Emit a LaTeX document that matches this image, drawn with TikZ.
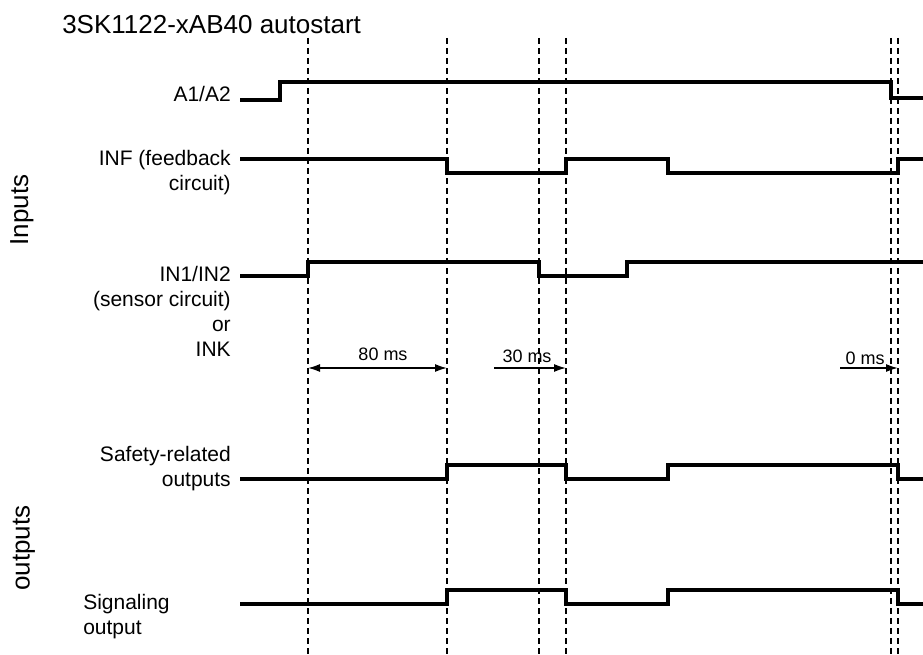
\documentclass[tikz,border=0pt]{standalone}
\usepackage{fontspec}
\setmainfont{Liberation Sans}
\usetikzlibrary{arrows.meta}

\begin{document}
\begin{tikzpicture}[
        x=0.75pt, y=-0.75pt,
        every node/.style={inner sep=0pt, font=\fontsize{15.75}{18.75}\selectfont},
        siglabel/.style={anchor=base east, align=right},
        group/.style={rotate=90, font=\fontsize{19.5}{23}\selectfont},
        mslabel/.style={anchor=base, font=\fontsize{13.5}{16}\selectfont},
        wave/.style={line width=2.6pt, line join=miter},
        timeline/.style={line width=0.8pt, dash pattern=on 4.5pt off 3pt},
        timing/.style={line width=1.2pt},
        >={Latex[length=9pt, width=6pt]}
      ]
        \useasboundingbox (0,0) rectangle (923,655);

        % Title and groups
        \node[anchor=base west, font=\fontsize{19.5}{23}\selectfont] (title) at (62,34) {3SK1122-xAB40 autostart};
        \node[group] (inputs) at (22,210) {Inputs};
        \node[group] (outputs) at (24,548) {outputs};

        % Signal names (base = last line)
        \node[siglabel] (a1a2) at (231,102) {A1/A2};
        \node[siglabel] (inf) at (231,191) {INF (feedback\\circuit)};
        \node[siglabel] (in12) at (231,357) {IN1/IN2\\(sensor circuit)\\or\\INK};
        \node[siglabel] (safety) at (231,486) {Safety-related\\outputs};
        \node[anchor=base west, align=left] (signaling) at (83,634) {Signaling\\output};

        % Time markers
        \draw[timeline] (308,38) -- (308,655);
        \draw[timeline] (447,38) -- (447,655);
        \draw[timeline] (539,38) -- (539,655);
        \draw[timeline] (566,38) -- (566,655);
        \draw[timeline] (891,38) -- (891,655);
        \draw[timeline] (898,38) -- (898,655);

        % Waveforms
        \draw[wave] (240,100) -- (280,100) -- (280,82) -- (891,82) -- (891,98) -- (923,98);
        \draw[wave] (240,159) -- (447,159) -- (447,173) -- (566,173) -- (566,159) -- (668,159)
          -- (668,173) -- (898,173) -- (898,159) -- (923,159);
        \draw[wave] (240,276) -- (308,276) -- (308,262) -- (539,262) -- (539,276) -- (627,276)
          -- (627,262) -- (923,262);
        \draw[wave] (240,479) -- (447,479) -- (447,465) -- (566,465) -- (566,479) -- (668,479)
          -- (668,465) -- (898,465) -- (898,479) -- (923,479);
        \draw[wave] (240,604) -- (447,604) -- (447,590) -- (566,590) -- (566,604) -- (668,604)
          -- (668,590) -- (898,590) -- (898,604) -- (923,604);

        % Delays
        \coordinate (d80a) at (308,368);
        \coordinate (d80b) at (447,368);
        \coordinate (d30a) at (494,368);
        \coordinate (d30b) at (566,368);
        \coordinate (d0a) at (840,368);
        \coordinate (d0b) at (898,368);

        \draw[<->, timing] (d80a) -- (d80b);
        \draw[->, timing] (d30a) -- (d30b);
        \draw[->, timing] (d0a) -- (d0b);

        \node[mslabel] (l80) at (383,361) {80 ms};
        \node[mslabel] (l30) at (527,363) {30 ms};
        \node[mslabel] (l0) at (865,364) {0 ms};
      \end{tikzpicture}
\end{document}
